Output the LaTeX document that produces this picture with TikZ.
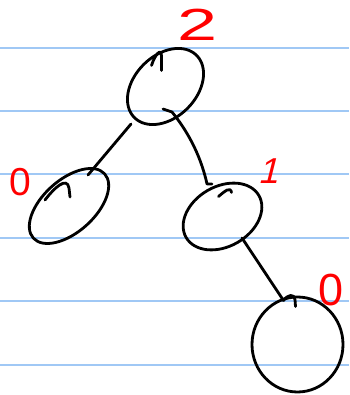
\documentclass[tikz,border=0pt]{standalone}
\usepackage{fontspec}
\setmainfont{Liberation Sans}
\usetikzlibrary{shapes.geometric,calc}
\definecolor{ruleblue}{RGB}{160,200,245}
\definecolor{inkred}{RGB}{255,0,0}
\begin{document}
\begin{tikzpicture}[x=1pt,y=-1pt,
  ink/.style={line width=2.8pt, line cap=round, line join=round, black},
  bubble/.style={ellipse, draw, ink, inner sep=0pt},
  ruled/.style={ruleblue, line width=2pt},
  numlabel/.style={inkred, inner sep=0pt, anchor=base}]
\fill[white] (0,0) rectangle (349,395);
\useasboundingbox (0,0) rectangle (349,395);
% ruled paper
\foreach \y in {48,111,174,238,301,365}
  \draw[ruled] (0,\y) -- (349,\y);

% tree nodes
\node[bubble, minimum width=88pt, minimum height=62pt, rotate=45] (root) at (165.5,86.5) {};
\node[bubble, minimum width=96pt, minimum height=52pt, rotate=42] (lc) at (69,206) {};
\node[bubble, minimum width=84pt, minimum height=60pt, rotate=30] (rc) at (222.5,216.5) {};
\node[bubble, minimum width=91pt, minimum height=95pt] (leaf) at (297.5,344.5) {};

% pen-start hooks at the top of each node
\draw[ink] ($(root)+(-14,-21)$) .. controls ($(root)+(-11,-31)$) and ($(root)+(-4,-40)$) .. ($(root)+(-4,-30)$) -- ($(root)+(-4,-16)$);
\draw[ink] ($(lc)+(-24,-6)$) .. controls ($(lc)+(-15,-18)$) and ($(lc)+(-2,-30)$) .. ($(lc)+(0,-18)$) -- ($(lc)+(1,-9)$);
\draw[ink] ($(rc)+(-4,-20)$) .. controls ($(rc)+(3,-26)$) and ($(rc)+(8,-30)$) .. ($(rc)+(9,-24)$);
\draw[ink] ($(leaf)+(-14,-44)$) .. controls ($(leaf)+(-10,-50)$) and ($(leaf)+(-3,-51)$) .. ($(leaf)+(-2.5,-45)$) -- ($(leaf)+(-2,-38)$);

% edges
\draw[ink] ($(root)+(-34.5,37.5)$) -- ($(lc)+(19,-31)$);
\draw[ink] ($(root)+(-2.5,22.5)$) -- ($(root)+(6.5,25.5)$)
  .. controls ($(root)+(19.5,41.5)$) and ($(rc)+(-22.5,-64.5)$) .. ($(rc)+(-15.5,-32.5)$)
  -- ($(rc)+(-10.5,-32.5)$);
\draw[ink] ($(rc)+(19.5,21.5)$) -- ($(leaf)+(-14,-44)$);

% heights
\node[numlabel, font=\fontsize{45}{45}\selectfont, xscale=1.6] (h2) at (198,41) {2};
\node[numlabel, font=\fontsize{39}{39}\selectfont] (h0a) at (20.5,195) {0};
\node[numlabel, font=\fontsize{36}{36}\selectfont, xslant=0.25] (h1) at (268,183) {1};
\node[numlabel, font=\fontsize{45}{45}\selectfont] (h0b) at (331.5,305) {0};
\end{tikzpicture}
\end{document}
